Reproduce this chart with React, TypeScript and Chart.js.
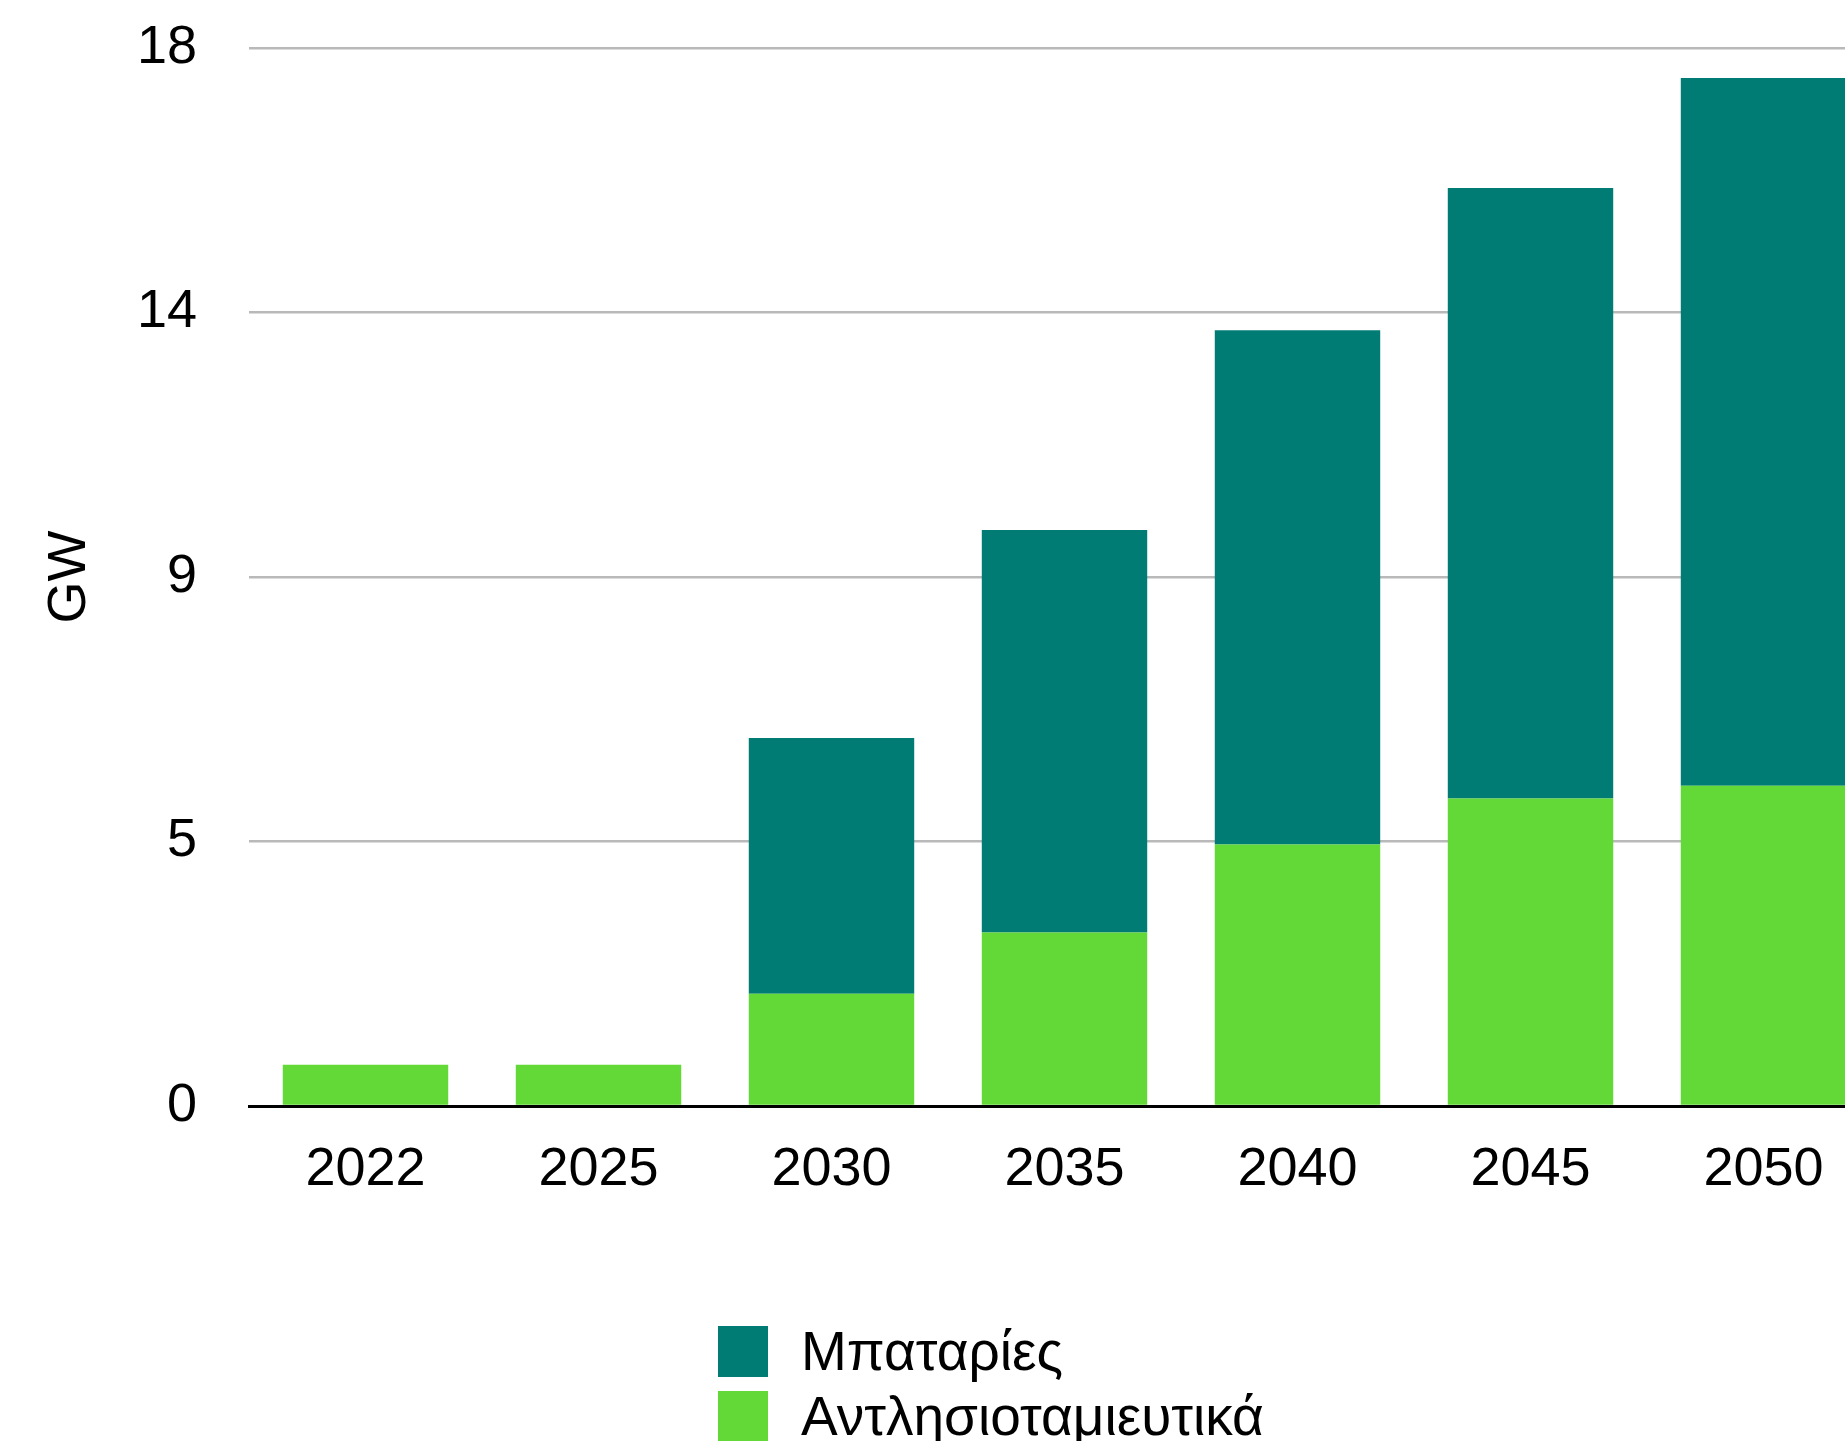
import React, { useEffect, useRef } from "react";
import { Chart, registerables } from "chart.js";

Chart.register(...registerables);

const categories = ["2022", "2025", "2030", "2035", "2040", "2045", "2050"];
const pumpedStorage = [0.7, 0.7, 1.91, 2.95, 4.45, 5.23, 5.45];
const batteries = [0, 0, 4.35, 6.85, 8.75, 10.39, 12.04];
const seriesNames = ["Αντλησιοταμιευτικά", "Μπαταρίες"];
const seriesColors = ["#62d936", "#007c75"];
const yTitle = "GW";
const yMin = 0;
const yMax = 18;
const yStep = 4.5;

const FONT = "'Liberation Sans', Arial, Helvetica, sans-serif";

export default function App() {
  const canvasRef = useRef<HTMLCanvasElement | null>(null);

  useEffect(() => {
    if (!canvasRef.current) return;
    const chart = new Chart(canvasRef.current, {
      type: "bar",
      data: {
        labels: categories,
        datasets: [
          {
            label: seriesNames[0],
            data: pumpedStorage,
            backgroundColor: seriesColors[0],
            borderWidth: 0,
          },
          {
            label: seriesNames[1],
            data: batteries,
            backgroundColor: seriesColors[1],
            borderWidth: 0,
          },
        ],
      },
      options: {
        animation: false,
        responsive: true,
        maintainAspectRatio: false,
        datasets: {
          bar: { categoryPercentage: 1, barPercentage: 0.71 },
        },
        layout: { padding: { top: 48, left: 0, right: 0, bottom: 0 } },
        plugins: {
          legend: { display: false },
          tooltip: { enabled: false },
        },
        scales: {
          x: {
            stacked: true,
            grid: { display: false, drawTicks: false },
            border: { display: true, color: "#000", width: 3, z: 1 },
            ticks: {
              color: "#000",
              font: { family: FONT, size: 54 },
              padding: 32,
              maxRotation: 0,
              autoSkip: false,
            },
            afterFit: (scale: any) => {
              scale.height = 134;
            },
          },
          y: {
            stacked: true,
            min: yMin,
            max: yMax,
            grid: { color: "#b9b9b9", lineWidth: 2.5, drawTicks: false },
            border: { display: false },
            ticks: {
              stepSize: yStep,
              color: "#000",
              font: { family: FONT, size: 54 },
              padding: 52,
              callback: (v: any) => String(Math.round(Number(v))),
            },
            title: {
              display: true,
              text: yTitle,
              color: "#000",
              font: { family: FONT, size: 54 },
              padding: { top: 38, bottom: 0 },
            },
            afterFit: (scale: any) => {
              scale.width = 249;
              scale.paddingTop = 30;
              scale.paddingBottom = 30;
            },
          },
        },
      },
    });
    return () => chart.destroy();
  }, []);

  const legendItems = [
    { name: seriesNames[1], color: seriesColors[1] },
    { name: seriesNames[0], color: seriesColors[0] },
  ];

  return (
    <div
      style={{
        position: "fixed",
        left: 0,
        top: 0,
        width: 1845,
        height: 1441,
        overflow: "hidden",
        background: "#fff",
      }}
    >
      <div style={{ position: "absolute", left: 0, top: 0, width: 1880, height: 1240 }}>
        <canvas ref={canvasRef} />
      </div>
      <div
        style={{
          position: "absolute",
          left: 718,
          top: 1326,
          fontFamily: FONT,
          fontSize: 55,
          color: "#000",
        }}
      >
        {legendItems.map((it) => (
          <div
            key={it.name}
            style={{ display: "flex", alignItems: "center", height: 51, marginBottom: 14, whiteSpace: "nowrap" }}
          >
            <div style={{ width: 50, height: 51, background: it.color, marginRight: 33, flex: "none" }} />
            <span style={{ lineHeight: "51px" }}>{it.name}</span>
          </div>
        ))}
      </div>
    </div>
  );
}
